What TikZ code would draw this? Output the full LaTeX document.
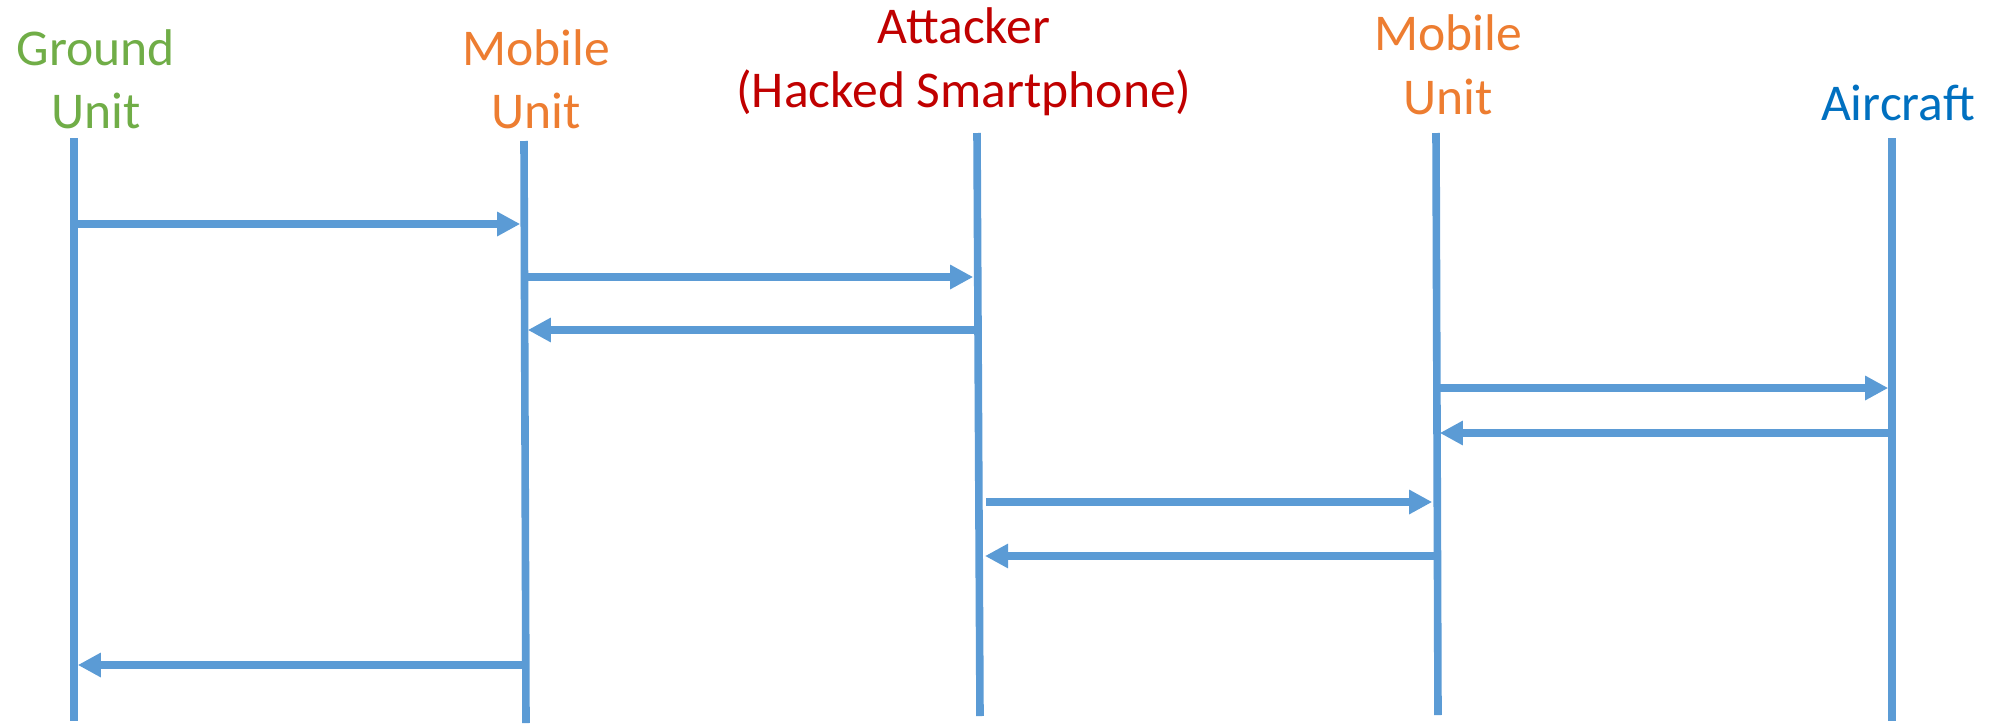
\documentclass[tikz,border=0pt]{standalone}
\usepackage{fontspec}
\setmainfont{Carlito}
\usetikzlibrary{arrows.meta}
\definecolor{lifeblue}{HTML}{5B9BD5}
\definecolor{groundgreen}{HTML}{70AD47}
\definecolor{mobileorange}{HTML}{ED7D31}
\definecolor{attackred}{HTML}{C00000}
\definecolor{aircraftblue}{HTML}{0070C0}
\begin{document}
\begin{tikzpicture}[x=0.5pt,y=-0.5pt,
  lifeline/.style={draw=lifeblue,line width=3.8pt},
  msg/.style={draw=lifeblue,line width=3.7pt,
    -{Triangle[length=11.5pt,width=11.5pt]},shorten >=1.9pt},
  role/.style={font=\fontsize{25.8}{31}\selectfont,anchor=base,inner sep=0pt}]
\useasboundingbox (0,0) rectangle (1998,724);

% participant labels
\node[role,text=groundgreen] (groundA) at (96,65) {Ground};
\node[role,text=groundgreen] (groundB) at (96,128) {Unit};
\node[role,text=mobileorange] (mobOneA) at (536,65) {Mobile};
\node[role,text=mobileorange] (mobOneB) at (536,128) {Unit};
\node[role,text=attackred] (attA) at (964,43) {Attacker};
\node[role,text=attackred] (attB) at (964,107) {(Hacked Smartphone)};
\node[role,text=mobileorange] (mobTwoA) at (1448,50) {Mobile};
\node[role,text=mobileorange] (mobTwoB) at (1448,114) {Unit};
\node[role,text=aircraftblue] (air) at (1898,120) {Aircraft};

% lifeline ends
\coordinate (gT) at (74,138);   \coordinate (gB) at (74,721);
\coordinate (m1T) at (524,141); \coordinate (m1B) at (526,723);
\coordinate (aT) at (977,133);  \coordinate (aB) at (980,716);
\coordinate (m2T) at (1436,133);\coordinate (m2B) at (1438,715);
\coordinate (acT) at (1892,138);\coordinate (acB) at (1892,721);

\draw[lifeline] (gT) -- (gB);
\draw[lifeline] (m1T) -- (m1B);
\draw[lifeline] (aT) -- (aB);
\draw[lifeline] (m2T) -- (m2B);
\draw[lifeline] (acT) -- (acB);

% message rows
\coordinate (r1) at (0,224);
\coordinate (r2) at (0,277);
\coordinate (r3) at (0,330);
\coordinate (r4) at (0,388);
\coordinate (r5) at (0,433);
\coordinate (r6) at (0,502);
\coordinate (r7) at (0,556);
\coordinate (r8) at (0,665);
% detached ends beside the attacker lifeline
\coordinate (fwdStart) at (986,502);
\coordinate (retEnd) at (985,556);

\draw[msg] (gT |- r1) -- (m1T |- r1);
\draw[msg] (m1T |- r2) -- (aT |- r2);
\draw[msg] (aT |- r3) -- (m1T |- r3);
\draw[msg] (m2T |- r4) -- (acT |- r4);
\draw[msg] (acT |- r5) -- (m2T |- r5);
\draw[msg] (fwdStart) -- (m2T |- r6);
\draw[msg,shorten >=0pt] (m2T |- r7) -- (retEnd);
\draw[msg] (m1T |- r8) -- (gT |- r8);
\end{tikzpicture}
\end{document}
